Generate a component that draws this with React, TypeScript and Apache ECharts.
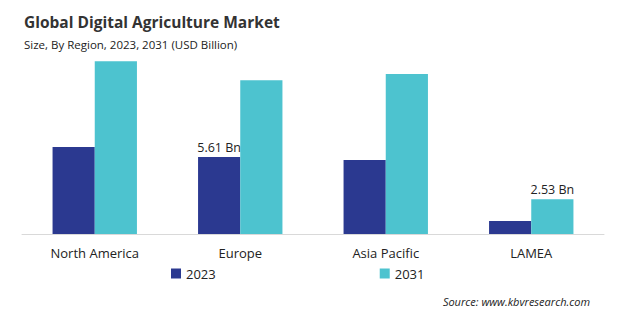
import React, { useEffect, useRef } from "react";
import * as echarts from "echarts";

const categories = ["North America", "Europe", "Asia Pacific", "LAMEA"];
const values2023 = [6.34, 5.61, 5.39, 0.95];
const values2031 = [12.6, 11.22, 11.66, 2.53];
const labels2023 = ["", "5.61 Bn", "", ""];
const labels2031 = ["", "", "", "2.53 Bn"];

const FONT = "'Open Sans', 'Noto Sans', sans-serif";

export default function App() {
  const ref = useRef<HTMLDivElement>(null);
  useEffect(() => {
    const chart = echarts.init(ref.current!, undefined, { renderer: "svg" });
    chart.setOption({
      animation: false,
      backgroundColor: "#ffffff",
      title: [
        {
          text: "Global Digital Agriculture Market",
          left: 19,
          top: 9,
          textStyle: { fontFamily: FONT, fontSize: 15.5, fontWeight: "bold", color: "#333333" },
        },
        {
          text: "Size, By Region, 2023, 2031 (USD Billion)",
          left: 19,
          top: 33,
          textStyle: { fontFamily: FONT, fontSize: 11.5, fontWeight: "normal", color: "#222222" },
        },
      ],
      legend: {
        bottom: 37,
        left: 166,
        itemWidth: 10,
        itemHeight: 10,
        itemGap: 164,
        icon: "rect",
        textStyle: { fontFamily: FONT, fontSize: 13, color: "#222222" },
        data: ["2023", "2031"],
      },
      graphic: [
        {
          type: "text",
          right: 30,
          top: 296,
          style: {
            text: "Source: www.kbvresearch.com",
            font: `italic 11px ${FONT}`,
            fill: "#222222",
          },
        },
      ],
      grid: { left: 22, right: 16, top: 42, bottom: 88 },
      xAxis: {
        type: "category",
        data: categories,
        axisLine: { lineStyle: { color: "#d9d9d9" } },
        axisTick: { show: false },
        axisLabel: { fontFamily: FONT, fontSize: 13, color: "#222222", margin: 12 },
      },
      yAxis: { type: "value", min: 0, max: 14, show: false, splitLine: { show: false } },
      series: [
        {
          name: "2023",
          type: "bar",
          data: values2023,
          barGap: "0%",
          barCategoryGap: "42%",
          itemStyle: { color: "#2B3990" },
          label: {
            show: true,
            position: "top",
            distance: 3,
            fontFamily: FONT,
            fontSize: 12.5,
            color: "#222222",
            formatter: (p: any) => labels2023[p.dataIndex],
          },
        },
        {
          name: "2031",
          type: "bar",
          data: values2031,
          itemStyle: { color: "#4DC3CF" },
          label: {
            show: true,
            position: "top",
            distance: 3,
            fontFamily: FONT,
            fontSize: 12.5,
            color: "#222222",
            formatter: (p: any) => labels2031[p.dataIndex],
          },
        },
      ],
    });
    return () => chart.dispose();
  }, []);
  return <div ref={ref} style={{ width: 620, height: 322, position: "absolute", left: 0, top: 0 }} />;
}
